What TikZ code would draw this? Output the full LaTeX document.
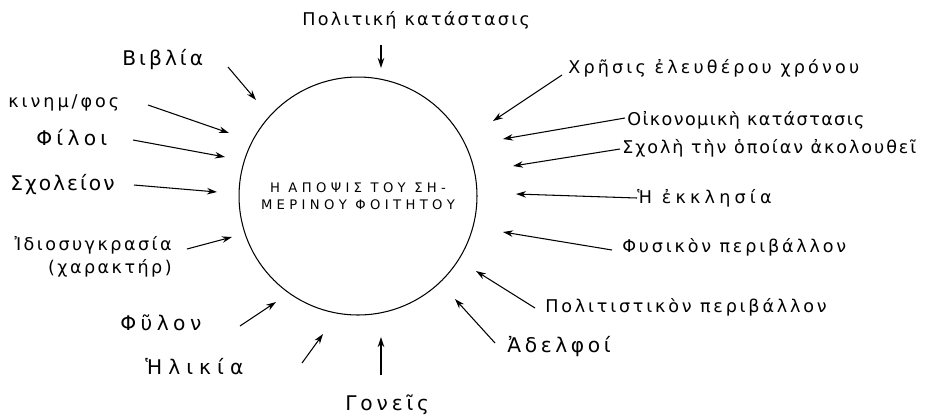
\documentclass[tikz,border=0pt]{standalone}
\usepackage{fontspec}
\setmainfont{DejaVu Sans}
\newfontfamily\handfont{DejaVu Sans}
\newfontfamily\capsfont[LetterSpace=33]{DejaVu Sans}
\usetikzlibrary{arrows.meta}

\begin{document}
\begin{tikzpicture}[x=0.02cm,y=-0.02cm,
  lbl/.style={anchor=west,inner sep=0pt,
    font=\handfont\fontsize{10}{13}\selectfont\addfontfeature{LetterSpace=#1}},
  lbl/.default=6,
  biglbl/.style={lbl,font=\handfont\fontsize{11.5}{14}\selectfont\addfontfeature{LetterSpace=#1}},
  infl/.style={-{Stealth[length=2mm,width=1.3mm]},line width=0.6pt}
]
  \useasboundingbox (0,0) rectangle (949,414);
  \node[draw,circle,line width=0.6pt,minimum size=4.76cm,inner sep=0pt,align=center,
    font=\capsfont\fontsize{7.5}{9.6}\selectfont] (view) at (358,196)
    {Η ΑΠΟΨΙΣ ΤΟΥ ΣΗ-\\ΜΕΡΙΝΟΥ ΦΟΙΤΗΤΟΥ};

  % factors, left side
  \node[lbl=13] (pol)  at (302,20)  {Πολιτική κατάστασις};
  \node[biglbl=15] (bib) at (122,60)  {Βιβλία};
  \node[lbl=17] (kin)  at (8,103)   {κινημ/φος};
  \node[biglbl=21] (fil) at (36,138)  {Φίλοι};
  \node[biglbl=10] (sch) at (10,185)  {Σχολείον};
  \node[lbl=14,anchor=east,align=right] (idio) at (172,257) {Ἰδιοσυγκρασία\\(χαρακτήρ)};
  \node[biglbl=22] (fyl) at (120,323) {Φῦλον};
  \node[biglbl=30] (ili) at (145,367) {Ἡλικία};
  \node[biglbl=19] (gon) at (345,405) {Γονεῖς};
  % factors, right side
  \node[biglbl=18] (ade) at (507,347) {Ἀδελφοί};
  \node[lbl=16] (polp) at (545,307) {Πολιτιστικὸν περιβάλλον};
  \node[lbl=16] (fys)  at (622,247) {Φυσικὸν περιβάλλον};
  \node[lbl=24] (ekk)  at (637,198) {Ἡ ἐκκλησία};
  \node[lbl=11] (scho) at (622,148) {Σχολὴ τὴν ὁποίαν ἀκολουθεῖ};
  \node[lbl=8]  (oik)  at (627,120) {Οἰκονομικὴ κατάστασις};
  \node[lbl=18] (xr)   at (568,68)  {Χρῆσις ἐλευθέρου χρόνου};

  % arrow ends
  \coordinate (pol-t)  at (381,45);  \coordinate (pol-h)  at (381,68);
  \coordinate (bib-t)  at (228,67);  \coordinate (bib-h)  at (256,100);
  \coordinate (kin-t)  at (148,105); \coordinate (kin-h)  at (229,133);
  \coordinate (fil-t)  at (133,140); \coordinate (fil-h)  at (225,157);
  \coordinate (sch-t)  at (134,185); \coordinate (sch-h)  at (217,192);
  \coordinate (idio-t) at (187,249); \coordinate (idio-h) at (232,237);
  \coordinate (fyl-t)  at (240,326); \coordinate (fyl-h)  at (276,302);
  \coordinate (ili-t)  at (302,363); \coordinate (ili-h)  at (323,334);
  \coordinate (gon-t)  at (381,375); \coordinate (gon-h)  at (381,337);
  \coordinate (ade-t)  at (495,343); \coordinate (ade-h)  at (455,299);
  \coordinate (polp-t) at (535,308); \coordinate (polp-h) at (476,271);
  \coordinate (fys-t)  at (612,250); \coordinate (fys-h)  at (503,232);
  \coordinate (ekk-t)  at (637,198); \coordinate (ekk-h)  at (516,194);
  \coordinate (scho-t) at (620,149); \coordinate (scho-h) at (513,166);
  \coordinate (oik-t)  at (625,118); \coordinate (oik-h)  at (503,139);
  \coordinate (xr-t)   at (562,75);  \coordinate (xr-h)   at (493,121);

  \draw[infl] (pol-t)--(pol-h);
  \draw[infl] (bib-t)--(bib-h);
  \draw[infl] (kin-t)--(kin-h);
  \draw[infl] (fil-t)--(fil-h);
  \draw[infl] (sch-t)--(sch-h);
  \draw[infl] (idio-t)--(idio-h);
  \draw[infl] (fyl-t)--(fyl-h);
  \draw[infl] (ili-t)--(ili-h);
  \draw[infl] (gon-t)--(gon-h);
  \draw[infl] (ade-t)--(ade-h);
  \draw[infl] (polp-t)--(polp-h);
  \draw[infl] (fys-t)--(fys-h);
  \draw[infl] (ekk-t)--(ekk-h);
  \draw[infl] (scho-t)--(scho-h);
  \draw[infl] (oik-t)--(oik-h);
  \draw[infl] (xr-t)--(xr-h);
\end{tikzpicture}
\end{document}
